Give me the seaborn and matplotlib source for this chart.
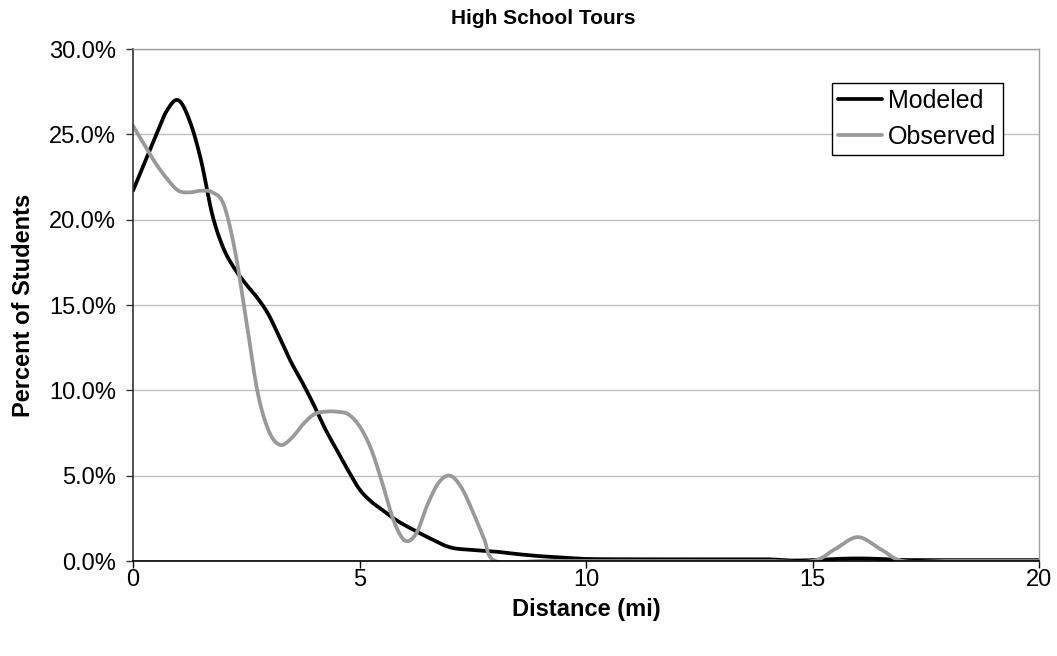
import numpy as np
import pandas as pd
import matplotlib
matplotlib.use("Agg")
import matplotlib.pyplot as plt
import seaborn as sns
from matplotlib.ticker import PercentFormatter, MultipleLocator

# Share of students by tour distance (miles), modeled vs. observed
modeled_mi = [0, 0.25, 0.5, 0.75, 1.0, 1.25, 1.5, 1.75, 2.0, 2.25, 2.5, 2.75,
              3.0, 3.25, 3.5, 3.75, 4.0, 4.25, 4.5, 4.75, 5.0, 5.25, 5.5, 5.75,
              6.0, 6.5, 7.0, 7.5, 8.0, 8.5, 9.0, 9.5, 10, 11, 12, 13, 14, 14.5,
              15, 15.5, 16, 16.5, 17, 18, 19, 20]
modeled_pct = [21.7, 23.3, 24.9, 26.4, 27.0, 25.8, 23.5, 20.3, 18.3, 17.1, 16.2, 15.4,
               14.4, 13.0, 11.6, 10.4, 9.1, 7.7, 6.5, 5.3, 4.2, 3.5, 3.0, 2.5,
               2.1, 1.4, 0.8, 0.65, 0.55, 0.4, 0.28, 0.2, 0.12, 0.1, 0.1, 0.1, 0.1, 0.03,
               0.05, 0.12, 0.15, 0.12, 0.06, 0.05, 0.05, 0.05]

observed_mi = [0, 0.25, 0.5, 0.75, 1.0, 1.25, 1.5, 1.75, 2.0, 2.25, 2.5, 2.75,
               3.0, 3.25, 3.5, 3.75, 4.0, 4.25, 4.5, 4.75, 5.0, 5.25, 5.5, 5.75,
               6.0, 6.25, 6.5, 6.75, 7.0, 7.25, 7.5, 7.75, 8.0, 9, 10, 11, 12, 13,
               14, 15, 15.5, 16, 16.5, 17, 18, 19, 20]
observed_pct = [25.5, 24.4, 23.3, 22.4, 21.7, 21.6, 21.7, 21.6, 20.9, 18.2, 14.1, 9.9,
                7.6, 6.8, 7.2, 8.0, 8.6, 8.75, 8.75, 8.6, 7.9, 6.6, 4.6, 2.4,
                1.2, 1.6, 3.3, 4.6, 5.0, 4.3, 2.9, 1.3, 0.0, 0, 0, 0, 0, 0,
                0, 0, 0.7, 1.4, 0.7, 0, 0, 0, 0]

series_names = ["Modeled", "Observed"]
series_colors = {"Modeled": "#000000", "Observed": "#999999"}

x_ticks = [0, 5, 10, 15, 20]


def smooth_curve(x, y, n=20):
    """Catmull-Rom spline through the points, like a smoothed spreadsheet line."""
    pts = np.column_stack([x, y]).astype(float)
    p = np.vstack([pts[0], pts, pts[-1]])
    t = np.linspace(0, 1, n, endpoint=False)[:, None]
    parts = []
    for i in range(1, len(p) - 2):
        p0, p1, p2, p3 = p[i - 1], p[i], p[i + 1], p[i + 2]
        seg = 0.5 * (2 * p1 + (-p0 + p2) * t
                     + (2 * p0 - 5 * p1 + 4 * p2 - p3) * t ** 2
                     + (-p0 + 3 * p1 - 3 * p2 + p3) * t ** 3)
        parts.append(seg)
    parts.append(pts[-1][None])
    out = np.vstack(parts)
    return out[:, 0], out[:, 1]


frames = []
for name, xs, ys in [("Modeled", modeled_mi, modeled_pct),
                     ("Observed", observed_mi, observed_pct)]:
    sx, sy = smooth_curve(xs, ys)
    frames.append(pd.DataFrame({"mi": sx, "pct": sy, "series": name}))
df = pd.concat(frames, ignore_index=True)

sns.set_theme(style="white")
plt.rcParams["font.family"] = ["Liberation Sans", "DejaVu Sans"]
plt.rcParams.update({"text.color": "black", "axes.labelcolor": "black",
                     "xtick.color": "black", "ytick.color": "black"})

W, H = 1057, 656
fig = plt.figure(figsize=(W / 100, H / 100), dpi=100)
ax = fig.add_axes([133 / W, 1 - 561 / H, 906 / W, 512 / H])

sns.lineplot(data=df, x="mi", y="pct", hue="series", hue_order=series_names,
             palette=series_colors, sort=False, estimator=None, units="series",
             linewidth=2.7, ax=ax, legend=False)

ax.set_xlim(0, 20)
ax.set_ylim(0, 30)
ax.yaxis.set_major_locator(MultipleLocator(5))
ax.set_xticks(x_ticks)
ax.yaxis.set_major_formatter(PercentFormatter(100, decimals=1))

ax.grid(axis="y", color="#c0c0c0", linewidth=1.0)
ax.grid(axis="x", visible=False)
ax.set_axisbelow(True)

for side in ("top", "right"):
    ax.spines[side].set_color("#a0a0a0")
    ax.spines[side].set_linewidth(1.0)
ax.spines["left"].set_color("#333333")
ax.spines["left"].set_linewidth(1.2)
ax.spines["bottom"].set_color("#000000")
ax.spines["bottom"].set_linewidth(1.2)

ax.tick_params(axis="both", which="major", direction="out", length=5,
               width=1.0, labelsize=17, labelcolor="black")
ax.tick_params(axis="y", pad=7, color="#333333")
ax.tick_params(axis="x", pad=1, color="black")
ax.tick_params(left=True, bottom=True)

ax.set_xlabel("Distance (mi)", fontsize=17, fontweight="bold", color="black")
ax.set_ylabel("Percent of Students", fontsize=17, fontweight="bold", color="black")
ax.xaxis.set_label_coords(0.5, -0.072)
ax.yaxis.set_label_coords(-0.108, 0.5)

fig.text(543 / W, 1 - 19 / H, "High School Tours", ha="center", va="center",
         fontsize=15, fontweight="bold", color="black")

handles = [plt.Line2D([], [], color=series_colors[n], linewidth=2.7) for n in series_names]
leg = ax.legend(handles, series_names, loc="lower right",
                bbox_to_anchor=(0.960, (561 - 155) / 512), borderaxespad=0,
                fontsize=18, frameon=True, fancybox=False, framealpha=1,
                edgecolor="#000000", handlelength=1.75, handletextpad=0.25,
                labelspacing=0.48, borderpad=0.25)
leg.get_frame().set_linewidth(1.0)
for txt in leg.get_texts():
    txt.set_color("black")

fig.savefig("out.png", dpi=100, facecolor="white")
